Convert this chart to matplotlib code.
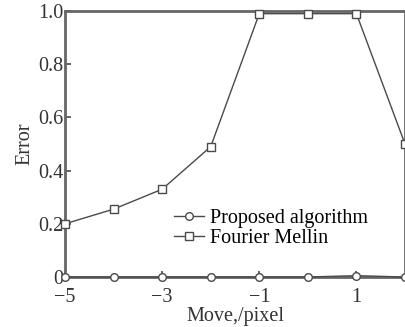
import matplotlib
matplotlib.use("Agg")
import matplotlib.pyplot as plt

moves = [-5, -4, -3, -2, -1, 0, 1, 2]
proposed = [0, 0, 0, 0, 0, 0, 0.005, 0]
fourier = [0.2, 0.255, 0.33, 0.49, 0.99, 0.99, 0.99, 0.5]
xticks = [-5, -3, -1, 1]
yticks = [0, 0.2, 0.4, 0.6, 0.8, 1.0]
ytick_labels = ["0", "0.2", "0.4", "0.6", "0.8", "1.0"]

plt.rcParams['font.family'] = ['Liberation Serif', 'DejaVu Serif']
col = '#4a4a4a'
fs = 14.5
fig = plt.figure(figsize=(4.06, 3.27), dpi=100)
ax = fig.add_axes([65/406, 50/327, 340/406, 266/327])
ax.plot(moves, proposed, color=col, lw=1.0, marker='o', ms=5.5, mfc='white', mec=col, mew=1.0,
        label='Proposed algorithm', clip_on=False, zorder=3)
ax.plot(moves, fourier, color=col, lw=1.0, marker='s', ms=5.5, mfc='white', mec=col, mew=1.0,
        label='Fourier Mellin', clip_on=False, zorder=3)
ax.set_xlim(-5, 2)
ax.set_ylim(0, 1.0)
ax.set_xticks(xticks)
ax.set_xticklabels(["\u22125", "\u22123", "\u22121", "1"])
ax.set_yticks(yticks)
ax.set_yticklabels(ytick_labels)
ax.tick_params(direction='in', length=4, width=1.2, color=col, labelsize=fs, labelcolor='#333333', pad=1)
ax.tick_params(axis='x', pad=8)
for s in ax.spines.values():
    s.set_linewidth(2)
    s.set_color('#666666')
ax.set_xlabel('Move,/pixel', fontsize=fs, color='#333333', labelpad=0)
ax.set_ylabel('Error', fontsize=fs, color='#333333', labelpad=3)
ax.legend(loc='lower left', bbox_to_anchor=(0.315, 0.1), frameon=False, fontsize=fs,
          handlelength=1.5, handletextpad=0.3, labelspacing=0.05, borderpad=0.1, borderaxespad=0)
fig.savefig('out.png', dpi=100)
